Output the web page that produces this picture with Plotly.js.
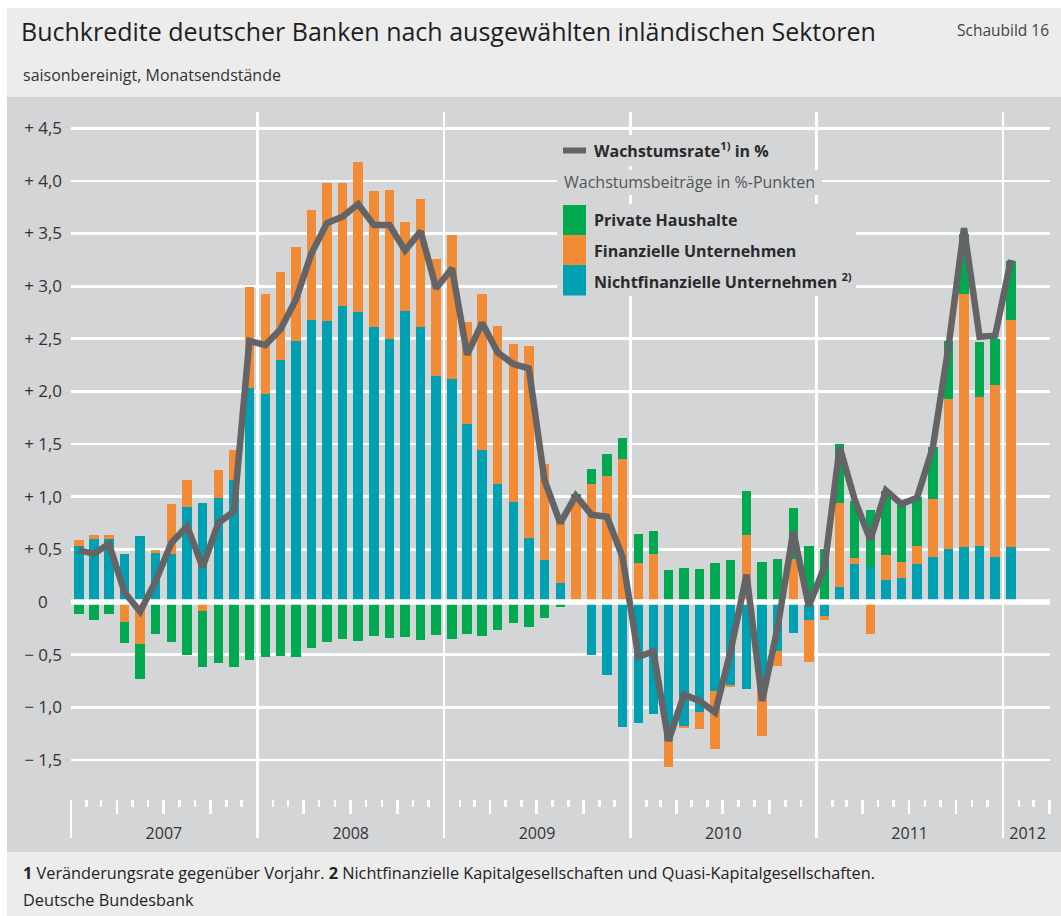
<!DOCTYPE html>
<html>
<head>
<meta charset="utf-8">
<script src="https://cdn.plot.ly/plotly-3.0.1.min.js"></script>
<style>
html,body{margin:0;padding:0;background:#ffffff;}
#chart{width:1061px;height:916px;}
</style>
</head>
<body>
<div id="chart"></div>
<script>
// ---------------- DATA ----------------
const months = [
 '2007-01','2007-02','2007-03','2007-04','2007-05','2007-06','2007-07','2007-08','2007-09','2007-10','2007-11','2007-12',
 '2008-01','2008-02','2008-03','2008-04','2008-05','2008-06','2008-07','2008-08','2008-09','2008-10','2008-11','2008-12',
 '2009-01','2009-02','2009-03','2009-04','2009-05','2009-06','2009-07','2009-08','2009-09','2009-10','2009-11','2009-12',
 '2010-01','2010-02','2010-03','2010-04','2010-05','2010-06','2010-07','2010-08','2010-09','2010-10','2010-11','2010-12',
 '2011-01','2011-02','2011-03','2011-04','2011-05','2011-06','2011-07','2011-08','2011-09','2011-10','2011-11','2011-12',
 '2012-01'
];
// Wachstumsbeiträge in %-Punkten
const nichtfinanzielle = [
 0.53,0.60,0.60,0.46,0.63,0.47,0.46,0.90,0.94,0.99,1.16,2.03,
 1.98,2.30,2.48,2.68,2.67,2.81,2.75,2.61,2.50,2.76,2.61,2.15,
 2.12,1.69,1.44,1.12,0.95,0.61,0.40,0.18,0.00,-0.50,-0.69,-1.19,
 -1.15,-1.06,-1.32,-1.18,-1.04,-0.85,-0.79,-0.83,-0.80,-0.47,-0.29,-0.17,
 -0.13,0.14,0.36,0.33,0.21,0.23,0.36,0.43,0.50,0.52,0.53,0.43,
 0.52
];
const finanzielle = [
 0.06,0.04,0.04,-0.19,-0.40,0.02,0.47,0.26,-0.09,0.26,0.28,0.96,
 0.95,0.83,0.89,1.04,1.31,1.17,1.43,1.29,1.41,0.85,1.22,1.11,
 1.37,0.97,1.49,1.50,1.50,1.82,0.91,0.59,1.01,1.12,1.20,1.36,
 0.37,0.46,-0.25,-0.02,-0.17,-0.55,-0.02,0.64,-0.47,-0.14,0.41,-0.40,
 -0.04,0.80,0.06,-0.30,0.24,0.15,0.17,0.55,1.43,2.41,1.42,1.63,
 2.16
];
const privateHaushalte = [
 -0.11,-0.17,-0.11,-0.20,-0.33,-0.30,-0.38,-0.50,-0.53,-0.58,-0.62,-0.55,
 -0.52,-0.51,-0.52,-0.44,-0.38,-0.35,-0.37,-0.32,-0.34,-0.33,-0.36,-0.31,
 -0.35,-0.30,-0.32,-0.27,-0.20,-0.24,-0.15,-0.05,0.02,0.14,0.21,0.20,
 0.28,0.21,0.30,0.32,0.31,0.37,0.40,0.41,0.38,0.41,0.48,0.53,
 0.50,0.56,0.54,0.54,0.60,0.54,0.47,0.49,0.55,0.57,0.52,0.44,
 0.56
];
// Wachstumsrate in %
const wachstumsrate = [
 0.49,0.46,0.55,0.09,-0.09,0.20,0.56,0.72,0.33,0.75,0.86,2.48,
 2.44,2.59,2.87,3.31,3.60,3.66,3.78,3.58,3.58,3.34,3.52,2.98,
 3.17,2.35,2.65,2.37,2.26,2.22,1.16,0.75,1.01,0.83,0.81,0.43,
 -0.52,-0.47,-1.32,-0.88,-0.94,-1.05,-0.46,0.26,-0.94,-0.24,0.67,-0.04,
 0.34,1.47,0.97,0.59,1.06,0.93,0.99,1.47,2.42,3.55,2.52,2.53,
 3.25
];
// axis ticks / labels
const yTickVals = [-1.5,-1.0,-0.5,0,0.5,1.0,1.5,2.0,2.5,3.0,3.5,4.0,4.5];
const yTickText = ['\u2212\u20051,5','\u2212\u20051,0','\u2212\u20050,5','0\u2008\u2007',
  '+\u20050,5','+\u20051,0','+\u20051,5','+\u20052,0','+\u20052,5','+\u20053,0','+\u20053,5','+\u20054,0','+\u20054,5'];
const yearBoundaries = ['2008-01-01','2009-01-01','2010-01-01','2011-01-01','2012-01-01'];
const yearLabelPos = ['2007-07-02','2008-07-02','2009-07-02','2010-07-02','2011-07-02','2012-02-18'];
const yearLabels = ['2007','2008','2009','2010','2011','2012'];

const seriesNames = {
  rate: '<b>Wachstumsrate<sup>1)</sup> in %</b>',
  sub: 'Wachstumsbeiträge in %-Punkten',
  privat: '<b>Private Haushalte</b>',
  finanz: '<b>Finanzielle Unternehmen</b>',
  nichtfin: '<b>Nichtfinanzielle Unternehmen <sup>2)</sup></b>'
};

// ---------------- STYLE ----------------
const W = 1061, H = 916;
const px = v => v / W;
const py = v => 1 - v / H;
const X_START = '2007-01-01', X_END = '2012-04-02';
const C_TEAL = '#00a0b3', C_ORANGE = '#f28b35', C_GREEN = '#00a850', C_LINE = '#646466';
const BG_DARK = '#d4d5d7', BG_LIGHT = '#ececed';
const FONT = 'Open Sans, Noto Sans, DejaVu Sans, sans-serif';
const DAY = 86400000;
const BAR_W = 18.5 * DAY;

const barCommon = {type:'bar', x: months, xperiod:'M1', xperiodalignment:'middle',
  width: BAR_W, showlegend:false, hoverinfo:'skip', marker:{line:{width:0}}};

const traces = [
  Object.assign({}, barCommon, {name:'Nichtfinanzielle Unternehmen', y: nichtfinanzielle, marker:{color:C_TEAL, line:{width:0}}}),
  Object.assign({}, barCommon, {name:'Finanzielle Unternehmen', y: finanzielle, marker:{color:C_ORANGE, line:{width:0}}}),
  Object.assign({}, barCommon, {name:'Private Haushalte', y: privateHaushalte, marker:{color:C_GREEN, line:{width:0}}}),
  // zero reference line drawn above bars
  {type:'scatter', mode:'lines', x:[X_START, X_END], y:[0,0], line:{color:'#ffffff', width:5.5},
   showlegend:false, hoverinfo:'skip'},
  {type:'scatter', mode:'lines', name:'Wachstumsrate', x: months, y: wachstumsrate,
   xperiod:'M1', xperiodalignment:'middle',
   line:{color:C_LINE, width:6.5}, showlegend:false, hoverinfo:'skip'},
  {type:'scatter', x:[], y:[], xaxis:'x2', yaxis:'y', showlegend:false, hoverinfo:'skip'},
  {type:'scatter', x:[], y:[], xaxis:'x3', yaxis:'y', showlegend:false, hoverinfo:'skip'},
  {type:'scatter', x:[], y:[], xaxis:'x4', yaxis:'y', showlegend:false, hoverinfo:'skip'}
];

const shapes = [
  // background bands
  {type:'rect', xref:'paper', yref:'paper', x0:px(7), x1:px(1061), y0:py(8), y1:py(97), fillcolor:BG_LIGHT, line:{width:0}, layer:'below'},
  {type:'rect', xref:'paper', yref:'paper', x0:px(7), x1:px(1061), y0:py(97), y1:py(852), fillcolor:BG_DARK, line:{width:0}, layer:'below'},
  {type:'rect', xref:'paper', yref:'paper', x0:px(7), x1:px(1061), y0:py(852), y1:py(916), fillcolor:BG_LIGHT, line:{width:0}, layer:'below'},
  // legend backgrounds
  {type:'rect', xref:'paper', yref:'paper', x0:px(557), x1:px(780), y0:py(135), y1:py(166), fillcolor:BG_DARK, line:{width:0}, layer:'above'},
  {type:'rect', xref:'paper', yref:'paper', x0:px(557), x1:px(822), y0:py(170), y1:py(195), fillcolor:BG_DARK, line:{width:0}, layer:'above'},
  {type:'rect', xref:'paper', yref:'paper', x0:px(557), x1:px(856), y0:py(204), y1:py(296), fillcolor:BG_DARK, line:{width:0}, layer:'above'},
  // legend symbols
  {type:'line', xref:'paper', yref:'paper', x0:px(563), x1:px(586), y0:py(150.5), y1:py(150.5), line:{color:C_LINE, width:6}, layer:'above'},
  {type:'rect', xref:'paper', yref:'paper', x0:px(563), x1:px(586), y0:py(205), y1:py(235), fillcolor:C_GREEN, line:{width:0}, layer:'above'},
  {type:'rect', xref:'paper', yref:'paper', x0:px(563), x1:px(586), y0:py(235), y1:py(265), fillcolor:C_ORANGE, line:{width:0}, layer:'above'},
  {type:'rect', xref:'paper', yref:'paper', x0:px(563), x1:px(586), y0:py(265), y1:py(295.5), fillcolor:C_TEAL, line:{width:0}, layer:'above'}
];

const ann = (text, x, y, size, color, extra) => Object.assign({
  text, x:px(x), y:py(y), xref:'paper', yref:'paper', xanchor:'left', yanchor:'middle',
  showarrow:false, font:{family:FONT, size, color}}, extra||{});

const annotations = [
  ann('Schaubild 16', 1051, 30, 15.5, '#444', {xanchor:'right'}),
  ann('saisonbereinigt, Monatsendstände', 21, 75, 16, '#333'),
  ann(seriesNames.rate, 592, 150, 16, '#2a2a2a'),
  ann(seriesNames.sub, 562, 182, 16, '#555'),
  ann(seriesNames.privat, 592, 220, 16, '#2a2a2a'),
  ann(seriesNames.finanz, 592, 250.5, 16, '#2a2a2a'),
  ann(seriesNames.nichtfin, 592, 281, 16, '#2a2a2a'),
  ann('<b>1</b> Veränderungsrate gegenüber Vorjahr. <b>2</b> Nichtfinanzielle Kapitalgesellschaften und Quasi-Kapitalgesellschaften.', 21, 873, 16.3, '#222'),
  ann('Deutsche Bundesbank', 21, 900, 16.3, '#222')
];

const xCommon = {type:'date', range:[X_START, X_END], fixedrange:true, zeroline:false, showline:false};

const layout = {
  width: W, height: H,
  margin:{l:0, r:0, t:0, b:0, pad:0},
  paper_bgcolor:'#ffffff', plot_bgcolor:'rgba(0,0,0,0)',
  barmode:'relative', bargap:0,
  font:{family:FONT, color:'#333'},
  showlegend:false, hovermode:false,
  title:{text:'Buchkredite deutscher Banken nach ausgewählten inländischen Sektoren',
    x:px(21), xanchor:'left', xref:'paper', y:py(32), yref:'container', yanchor:'middle',
    font:{family:FONT, size:25, color:'#1e1e1e'}},
  xaxis: Object.assign({}, xCommon, {domain:[px(71), px(1050)], anchor:'y',
    tickmode:'array', tickvals: yearBoundaries, showticklabels:false, ticks:'',
    showgrid:true, gridcolor:'#ffffff', gridwidth:2.7}),
  xaxis2: Object.assign({}, xCommon, {overlaying:'x', anchor:'free', position:py(822),
    tickmode:'array', tickvals: yearLabelPos, ticktext: yearLabels, ticks:'', showgrid:false,
    tickfont:{family:FONT, size:16, color:'#333'}}),
  xaxis3: Object.assign({}, xCommon, {overlaying:'x', anchor:'free', position:py(799),
    tickmode:'linear', tick0:'2007-01-01', dtick:'M12', ticks:'outside', ticklen:38, tickwidth:2.7,
    tickcolor:'#ffffff', showticklabels:false, showgrid:false,
    minor:{tick0:'2007-01-01', dtick:'M3', ticks:'outside', ticklen:14, tickwidth:2.7, tickcolor:'#ffffff', showgrid:false}}),
  xaxis4: Object.assign({}, xCommon, {overlaying:'x', anchor:'free', position:py(799),
    tickmode:'linear', tick0:'2007-01-01', dtick:'M1', ticks:'outside', ticklen:7, tickwidth:2.7,
    tickcolor:'#ffffff', showticklabels:false, showgrid:false}),
  yaxis: {domain:[py(837), py(112)], range:[-2.2321, 4.6543], anchor:'x', fixedrange:true,
    tickmode:'array', tickvals: yTickVals, ticktext: yTickText, ticks:'', ticklabelstandoff:8,
    showgrid:true, gridcolor:'#ffffff', gridwidth:2.7, zeroline:false, showline:false,
    tickfont:{family:FONT, size:17, color:'#333'}},
  shapes, annotations
};

Plotly.newPlot('chart', traces, layout, {staticPlot:true, displayModeBar:false});
</script>
</body>
</html>
